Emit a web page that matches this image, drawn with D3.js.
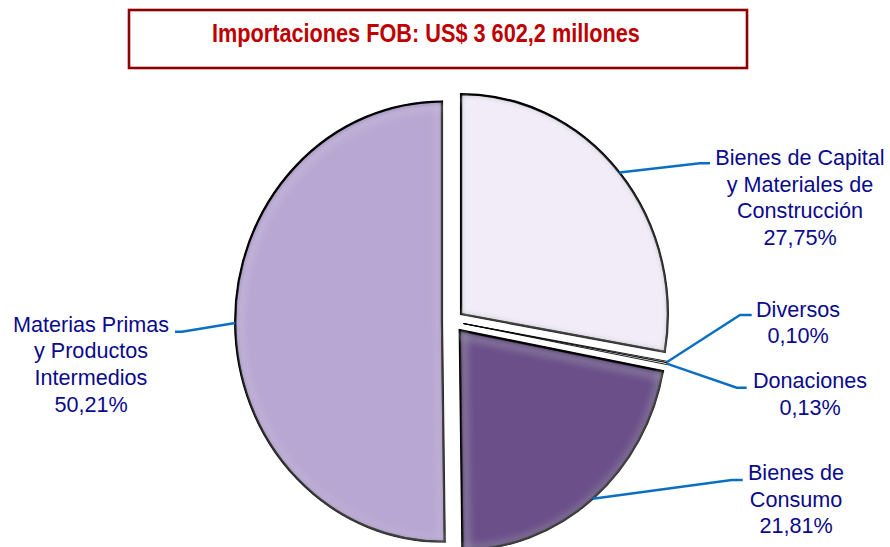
<!DOCTYPE html>
<html>
<head>
<meta charset="utf-8">
<script src="https://cdn.jsdelivr.net/npm/d3@7"></script>
<style>
  html, body { margin: 0; padding: 0; background: #fff; }
  svg { display: block; }
</style>
</head>
<body>
<svg id="chart" width="890" height="547"></svg>
<script>
// ---- data ----
const title = "Importaciones FOB: US$ 3 602,2 millones";
const categories = [
  "Bienes de Capital y Materiales de Construcción",
  "Diversos",
  "Donaciones",
  "Bienes de Consumo",
  "Materias Primas y Productos Intermedios"
];
const values = [27.75, 0.10, 0.13, 21.81, 50.21];
const labelLines = [
  ["Bienes de Capital", "y Materiales de", "Construcción"],
  ["Diversos"],
  ["Donaciones"],
  ["Bienes de", "Consumo"],
  ["Materias Primas", "y Productos", "Intermedios"]
];
const colors = ["#F1ECF8", "#FFFFFF", "#FFFFFF", "#6B5089", "#B9A7D3"];

// ---- layout ----
const W = 890, H = 547;
const cx = 452.8, cy = 321.5;
const R = 220, sx = 0.94;
const explode = [11.5, 11.5, 11.5, 11.5, 11.5];
const lineH = 26.7;
const labelLayout = [
  { x: 800, y: 165,   elbow: [700, 163.3],  end: [710, 163.3] },
  { x: 798, y: 316.7, elbow: [740, 315],    end: [751.7, 315] },
  { x: 810, y: 388,   elbow: [736.7, 387.7], end: [746.7, 387.7] },
  { x: 796, y: 480,   elbow: [731.7, 480],  end: [742.7, 480] },
  { x: 91,  y: 331.7, elbow: [182, 331.7],  end: [175, 331.7] }
];

const svg = d3.select("#chart");
const defs = svg.append("defs");

// inner bevel filter
const f = defs.append("filter").attr("id", "bevel")
  .attr("x", "-5%").attr("y", "-5%").attr("width", "110%").attr("height", "110%");
f.append("feGaussianBlur").attr("in", "SourceAlpha").attr("stdDeviation", 3.5).attr("result", "blur");
f.append("feComposite").attr("in", "SourceAlpha").attr("in2", "blur")
  .attr("operator", "arithmetic").attr("k1", 0).attr("k2", 1).attr("k3", -1).attr("k4", 0)
  .attr("result", "edge");
f.append("feFlood").attr("flood-color", "#000").attr("flood-opacity", 0.75).attr("result", "col");
f.append("feComposite").attr("in", "col").attr("in2", "edge").attr("operator", "in").attr("result", "shadow");
// highlight ring slightly inside
f.append("feGaussianBlur").attr("in", "SourceAlpha").attr("stdDeviation", 7).attr("result", "blur2");
f.append("feComposite").attr("in", "blur").attr("in2", "blur2")
  .attr("operator", "arithmetic").attr("k1", 0).attr("k2", 1).attr("k3", -1).attr("k4", 0)
  .attr("result", "ring");
f.append("feOffset").attr("in", "ring").attr("dx", 1).attr("dy", 2).attr("result", "ringOff");
f.append("feFlood").attr("flood-color", "#fff").attr("flood-opacity", 0.5).attr("result", "hcol");
f.append("feComposite").attr("in", "hcol").attr("in2", "ringOff").attr("operator", "in").attr("result", "hl");
const m = f.append("feMerge");
m.append("feMergeNode").attr("in", "SourceGraphic");
m.append("feMergeNode").attr("in", "hl");
m.append("feMergeNode").attr("in", "shadow");

// ---- title box ----
svg.append("rect")
  .attr("x", 129).attr("y", 10).attr("width", 618).attr("height", 58)
  .attr("fill", "#fff").attr("stroke", "#8E0000").attr("stroke-width", 2.6);
svg.append("text")
  .attr("x", 425.9).attr("y", 41.7)
  .attr("text-anchor", "middle")
  .attr("font-family", "'Liberation Sans Narrow', 'Liberation Sans', Arial, sans-serif")
  .attr("font-weight", "bold")
  .attr("font-size", 25.5)
  .attr("fill", "#BE0000")
  .attr("textLength", 428)
  .attr("lengthAdjust", "spacingAndGlyphs")
  .text(title);

// ---- pie ----
const pie = d3.pie().sort(null).value(d => d).startAngle(0).endAngle(2 * Math.PI);
const arcs = pie(values);
const arc = d3.arc().innerRadius(0).outerRadius(R);

const centers = arcs.map((a, i) => {
  const mid = (a.startAngle + a.endAngle) / 2;
  return [cx + explode[i] * sx * Math.sin(mid), cy - explode[i] * Math.cos(mid)];
});

const big = v => v > 1;
const g = svg.append("g");
g.selectAll("path.slice")
  .data(arcs)
  .join("path")
  .attr("class", "slice")
  .attr("transform", (a, i) => `translate(${centers[i][0]},${centers[i][1]}) scale(${sx},1)`)
  .attr("d", arc)
  .attr("fill", (a, i) => colors[i])
  .attr("stroke", "#000")
  .attr("stroke-width", (a, i) => big(values[i]) ? 2.4 : 0.9)
  .attr("stroke-linejoin", "miter")
  .attr("filter", (a, i) => big(values[i]) ? "url(#bevel)" : null);

// ---- leader lines & labels ----
const fmt = v => d3.format(".2f")(v).replace(".", ",") + "%";

arcs.forEach((a, i) => {
  const mid = (a.startAngle + a.endAngle) / 2;
  const start = [centers[i][0] + R * sx * Math.sin(mid), centers[i][1] - R * Math.cos(mid)];
  const L = labelLayout[i];
  svg.append("path")
    .attr("d", d3.line()([start, L.elbow, L.end]))
    .attr("fill", "none")
    .attr("stroke", "#0A6FC2")
    .attr("stroke-width", 2.4);

  const t = svg.append("text")
    .attr("text-anchor", "middle")
    .attr("font-family", "'Liberation Sans', Arial, sans-serif")
    .attr("font-size", 21.6)
    .attr("fill", "#0A0A8C");
  const lines = labelLines[i].concat([fmt(values[i])]);
  lines.forEach((s, k) => {
    t.append("tspan").attr("x", L.x).attr("y", L.y + k * lineH).text(s);
  });
});
</script>
</body>
</html>
